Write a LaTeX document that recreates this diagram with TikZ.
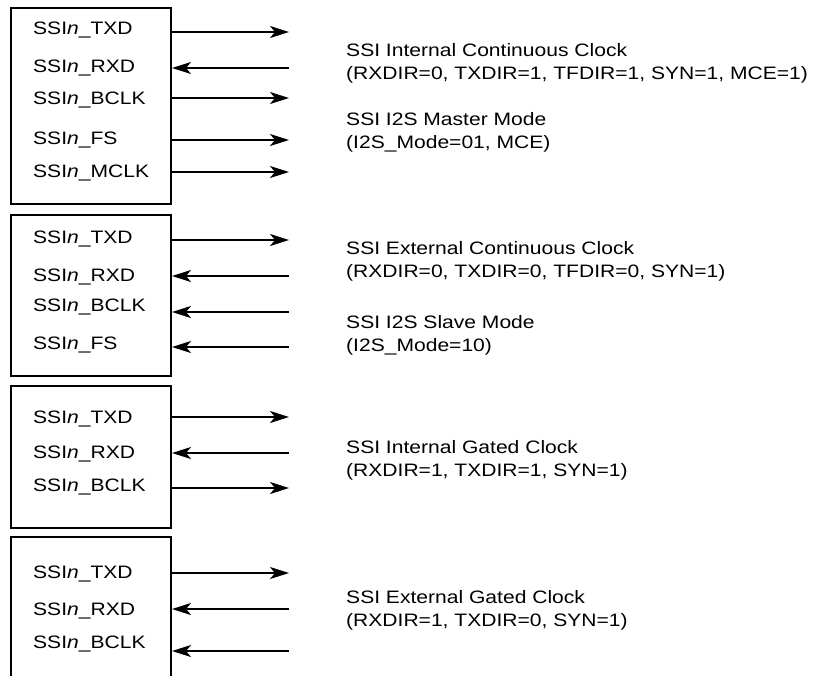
\documentclass[tikz,border=0pt]{standalone}
\usepackage{fontspec}
\setmainfont{Liberation Sans}[FakeStretch=1.17]
\usetikzlibrary{arrows.meta}
\begin{document}
\begin{tikzpicture}[x=1pt,y=-1pt,
  box/.style={draw, line width=2pt, minimum width=160pt, inner sep=0pt, anchor=north west},
  sig/.style={anchor=base west, inner sep=0pt, font=\fontsize{18}{22}\selectfont},
  desc/.style={anchor=base west, inner sep=0pt, font=\fontsize{18}{22}\selectfont},
  sigout/.style={-{Stealth[length=19pt,width=12pt,inset=5pt]}, line width=2pt},
  sigin/.style={-{Stealth[length=19pt,width=12pt,inset=5pt]}, line width=2pt}]
\useasboundingbox (0,0) rectangle (818,675);
\fill[white] (0,0) rectangle (818,675);
\clip (0,0) rectangle (818,675);

% boxes
\node[box, minimum height=196pt] (b1) at (10,7) {};
\node[box, minimum height=161pt] (b2) at (10,214) {};
\node[box, minimum height=142pt] (b3) at (10,385) {};
\node[box, minimum height=170pt] (b4) at (10,536) {};

% box 1 labels
\node[sig] (l1a) at (33,34) {SSI\textit{n}\_TXD};
\node[sig] (l1b) at (33,72) {SSI\textit{n}\_RXD};
\node[sig] (l1c) at (33,104) {SSI\textit{n}\_BCLK};
\node[sig] (l1d) at (33,144) {SSI\textit{n}\_FS};
\node[sig] (l1e) at (33,177) {SSI\textit{n}\_MCLK};
% box 2 labels
\node[sig] (l2a) at (33,243) {SSI\textit{n}\_TXD};
\node[sig] (l2b) at (33,281) {SSI\textit{n}\_RXD};
\node[sig] (l2c) at (33,311) {SSI\textit{n}\_BCLK};
\node[sig] (l2d) at (33,349) {SSI\textit{n}\_FS};
% box 3 labels
\node[sig] (l3a) at (33,423) {SSI\textit{n}\_TXD};
\node[sig] (l3b) at (33,458) {SSI\textit{n}\_RXD};
\node[sig] (l3c) at (33,491) {SSI\textit{n}\_BCLK};
% box 4 labels
\node[sig] (l4a) at (33,578) {SSI\textit{n}\_TXD};
\node[sig] (l4b) at (33,615) {SSI\textit{n}\_RXD};
\node[sig] (l4c) at (33,648) {SSI\textit{n}\_BCLK};

% far ends of connectors
\coordinate (o1a) at (289,32);
\coordinate (o1b) at (289,68);
\coordinate (o1c) at (289,98);
\coordinate (o1d) at (289,140);
\coordinate (o1e) at (289,172);
\coordinate (o2a) at (289,240);
\coordinate (o2b) at (289,276);
\coordinate (o2c) at (289,312);
\coordinate (o2d) at (289,347);
\coordinate (o3a) at (289,417);
\coordinate (o3b) at (289,453);
\coordinate (o3c) at (289,488);
\coordinate (o4a) at (289,573);
\coordinate (o4b) at (289,609);
\coordinate (o4c) at (289,651);

% connectors
\draw[sigout] (b1.east |- o1a) -- (o1a);
\draw[sigin]  (o1b) -- (b1.east |- o1b);
\draw[sigout] (b1.east |- o1c) -- (o1c);
\draw[sigout] (b1.east |- o1d) -- (o1d);
\draw[sigout] (b1.east |- o1e) -- (o1e);

\draw[sigout] (b2.east |- o2a) -- (o2a);
\draw[sigin]  (o2b) -- (b2.east |- o2b);
\draw[sigin]  (o2c) -- (b2.east |- o2c);
\draw[sigin]  (o2d) -- (b2.east |- o2d);

\draw[sigout] (b3.east |- o3a) -- (o3a);
\draw[sigin]  (o3b) -- (b3.east |- o3b);
\draw[sigout] (b3.east |- o3c) -- (o3c);

\draw[sigout] (b4.east |- o4a) -- (o4a);
\draw[sigin]  (o4b) -- (b4.east |- o4b);
\draw[sigin]  (o4c) -- (b4.east |- o4c);

% descriptions
\node[desc] (d1a) at (346,56) {SSI Internal Continuous Clock};
\node[desc] (d1b) at (346,79) {(RXDIR=0, TXDIR=1, TFDIR=1, SYN=1, MCE=1)};
\node[desc] (d1c) at (346,125) {SSI I2S Master Mode};
\node[desc] (d1d) at (346,148) {(I2S\_Mode=01, MCE)};
\node[desc] (d2a) at (346,254) {SSI External Continuous Clock};
\node[desc] (d2b) at (346,277) {(RXDIR=0, TXDIR=0, TFDIR=0, SYN=1)};
\node[desc] (d2c) at (346,328) {SSI I2S Slave Mode};
\node[desc] (d2d) at (346,351) {(I2S\_Mode=10)};
\node[desc] (d3a) at (346,453) {SSI Internal Gated Clock};
\node[desc] (d3b) at (346,476) {(RXDIR=1, TXDIR=1, SYN=1)};
\node[desc] (d4a) at (346,603) {SSI External Gated Clock};
\node[desc] (d4b) at (346,626) {(RXDIR=1, TXDIR=0, SYN=1)};
\end{tikzpicture}
\end{document}
